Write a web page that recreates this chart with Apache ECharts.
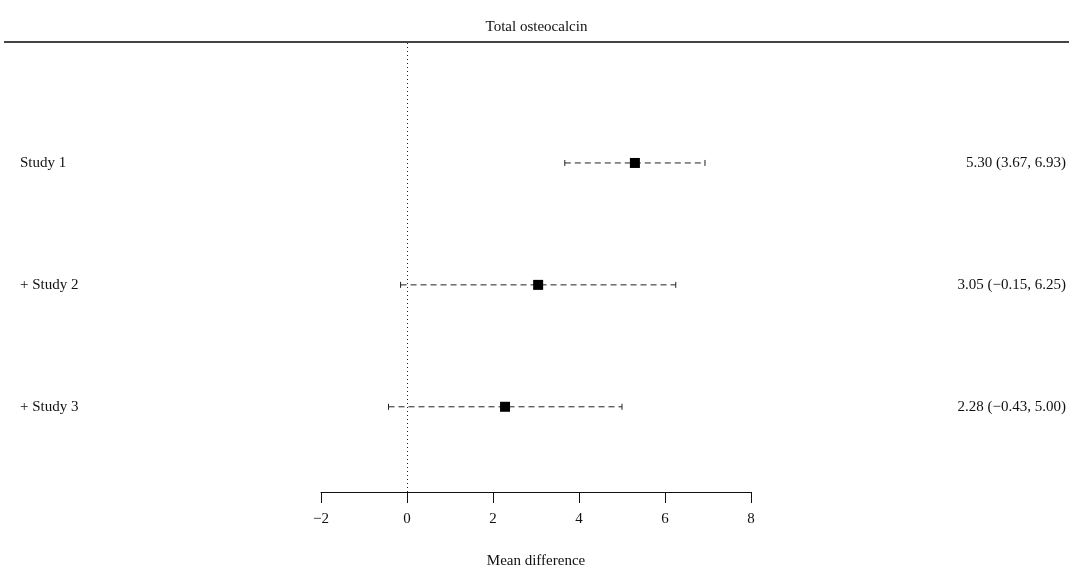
<!DOCTYPE html>
<html>
<head>
<meta charset="utf-8">
<script src="https://cdn.jsdelivr.net/npm/echarts@6/dist/echarts.min.js"></script>
<style>
html, body { margin: 0; padding: 0; background: #fff; }
#chart { width: 1073px; height: 574px; }
</style>
</head>
<body>
<div id="chart"></div>
<script>
// data
var studies = ['Study 1', '+ Study 2', '+ Study 3'];
var means = [5.30, 3.05, 2.28];
var lower = [3.67, -0.15, -0.43];
var upper = [6.93, 6.25, 5.00];
var rowPos = [3, 2, 1];
var xTicks = [-2, 0, 2, 4, 6, 8];

var font = 'Liberation Serif';

function fmt(v)
{
    var s = Math.abs(v).toFixed(2);
    return (v < 0 ? '\u2212' : '') + s;
}

var rows = [];
for (var i = 0; i < studies.length; i++)
{
    rows.push([means[i], rowPos[i], lower[i], upper[i], i]);
}

var myChart = echarts.init(document.getElementById('chart'));
var option = {
    animation: false,
    title: {
        text: 'Total osteocalcin',
        left: 'center',
        top: 15,
        textStyle: { fontFamily: font, fontSize: 15, fontWeight: 'normal', color: '#111' }
    },
    graphic: [{
        type: 'line',
        shape: { x1: 4, y1: 42, x2: 1069, y2: 42 },
        style: { stroke: '#444', lineWidth: 2 }
    }],
    grid: { left: 321, right: 322, top: 43, bottom: 78 },
    xAxis: {
        type: 'value',
        min: xTicks[0],
        max: xTicks[xTicks.length - 1],
        interval: 2,
        splitLine: { show: false },
        axisLine: { show: true, lineStyle: { color: '#111', width: 1 } },
        axisTick: { show: true, length: 11, lineStyle: { color: '#111' } },
        axisLabel: {
            margin: 20,
            fontFamily: font,
            fontSize: 15,
            color: '#111',
            formatter: function (v) { return v < 0 ? '\u2212' + Math.abs(v) : String(v); }
        },
        name: 'Mean difference',
        nameLocation: 'middle',
        nameGap: 62,
        nameTextStyle: { fontFamily: font, fontSize: 15, color: '#111' }
    },
    yAxis: {
        type: 'value',
        min: 0.301,
        max: 3.984,
        show: false
    },
    series: [{
        type: 'custom',
        data: rows,
        renderItem: function (params, api) {
            var y = api.value(1);
            var m = api.coord([api.value(0), y]);
            var lo = api.coord([api.value(2), y]);
            var hi = api.coord([api.value(3), y]);
            var idx = api.value(4);
            var cap = 3;
            var sq = 5;
            return {
                type: 'group',
                children: [
                    {
                        type: 'line',
                        shape: { x1: lo[0], y1: m[1], x2: hi[0], y2: m[1] },
                        style: { stroke: '#222', lineWidth: 1, lineDash: [6, 4] }
                    },
                    {
                        type: 'line',
                        shape: { x1: lo[0], y1: m[1] - cap, x2: lo[0], y2: m[1] + cap },
                        style: { stroke: '#222', lineWidth: 1 }
                    },
                    {
                        type: 'line',
                        shape: { x1: hi[0], y1: m[1] - cap, x2: hi[0], y2: m[1] + cap },
                        style: { stroke: '#222', lineWidth: 1 }
                    },
                    {
                        type: 'rect',
                        shape: { x: m[0] - sq, y: m[1] - sq, width: sq * 2, height: sq * 2 },
                        style: { fill: '#000' }
                    },
                    {
                        type: 'text',
                        style: {
                            x: 20, y: m[1], text: studies[idx],
                            fontFamily: font, fontSize: 15, fill: '#111',
                            textAlign: 'left', textVerticalAlign: 'middle'
                        }
                    },
                    {
                        type: 'text',
                        style: {
                            x: 1066, y: m[1],
                            text: fmt(means[idx]) + ' (' + fmt(lower[idx]) + ', ' + fmt(upper[idx]) + ')',
                            fontFamily: font, fontSize: 15, fill: '#111',
                            textAlign: 'right', textVerticalAlign: 'middle'
                        }
                    }
                ]
            };
        },
        markLine: {
            silent: true,
            symbol: 'none',
            label: { show: false },
            lineStyle: { type: [1, 3], color: '#222', width: 1 },
            data: [{ xAxis: 0 }]
        }
    }]
};
myChart.setOption(option);
</script>
</body>
</html>
